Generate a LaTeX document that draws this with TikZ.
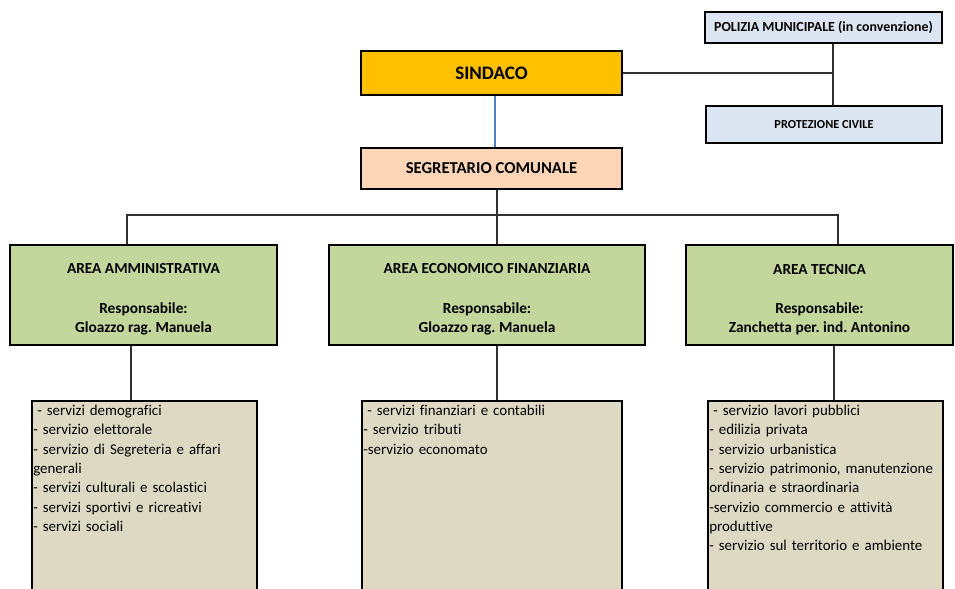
\documentclass[tikz,border=0pt]{standalone}
\usepackage{fontspec}
\setmainfont{Carlito}[Ligatures={NoCommon}]
\frenchspacing
\definecolor{sindacoC}{HTML}{FFC000}
\definecolor{segrC}{HTML}{FBD5B5}
\definecolor{bluegC}{HTML}{DCE6F2}
\definecolor{areaC}{HTML}{C3D69B}
\definecolor{listC}{HTML}{DDD9C3}
\definecolor{lineblue}{HTML}{4F81BD}
\definecolor{lineC}{HTML}{303030}
\tikzset{
  x=0.75pt, y=-0.75pt,
  mainbox/.style={draw=black, line width=2.2pt, inner sep=0pt, align=center, font=\bfseries},
  sz/.style 2 args={minimum width={#1*0.75pt}, minimum height={#2*0.75pt}},
  listbox/.style={draw=black, line width=1.5pt, fill=listC, inner sep=0pt, anchor=north west},
  listtext/.style={anchor=north west, inner sep=0pt, align=left, font=\fontsize{11.2}{14.5}\selectfont},
  areatext/.style={font=\bfseries\fontsize{11.5}{14.3}\selectfont},
  conn/.style={draw=lineC, line width=1pt},
}
\newcommand\topstrut{\rule{0pt}{14.5pt}}
\begin{document}
\begin{tikzpicture}
\useasboundingbox (0,0) rectangle (955,588);
\clip (0,0) rectangle (955,588);

\node[mainbox, fill=bluegC, sz={237}{31}, font=\bfseries\fontsize{10.4}{12}\selectfont] (polizia) at (823.5,27.5) {POLIZIA MUNICIPALE (in convenzione)};
\node[mainbox, fill=bluegC, sz={236}{37}, font=\bfseries\fontsize{9.2}{11}\selectfont] (protezione) at (824,124.5) {PROTEZIONE CIVILE};
\node[mainbox, fill=sindacoC, sz={261}{44}, font=\bfseries\fontsize{14.3}{16}\selectfont] (sindaco) at (491.5,73) {SINDACO};
\node[mainbox, fill=segrC, sz={261}{41}, font=\bfseries\fontsize{12.5}{14}\selectfont] (segretario) at (491.5,168.5) {SEGRETARIO COMUNALE};

\node[mainbox, fill=areaC, sz={267}{100}, areatext] (admin) at (143.5,295) {\topstrut AREA AMMINISTRATIVA\\[15.5pt]Responsabile:\\Gloazzo rag. Manuela};
\node[mainbox, fill=areaC, sz={316}{100}, areatext] (econ) at (487,295) {\topstrut AREA ECONOMICO FINANZIARIA\\[15.5pt]Responsabile:\\Gloazzo rag. Manuela};
\node[mainbox, fill=areaC, sz={267}{100}, areatext] (tecnica) at (819.5,295) {\topstrut AREA TECNICA\\[15.5pt]Responsabile:\\Zanchetta per. ind. Antonino};

\node[listbox, sz={225}{200}] (ladmin) at (31,400) {};
\node[listbox, sz={260}{200}] (lecon) at (361,400) {};
\node[listbox, sz={235}{200}] (ltec) at (707,400) {};

\node[listtext, text width=220*0.75pt] (tadmin) at (33,405) {\hspace*{3pt}- servizi demografici\\- servizio elettorale\\- servizio di Segreteria e affari\\generali\\- servizi culturali e scolastici\\- servizi sportivi e ricreativi\\- servizi sociali};
\node[listtext, text width=255*0.75pt] (tecon) at (363,405) {\hspace*{3pt}- servizi finanziari e contabili\\- servizio tributi\\-servizio economato};
\node[listtext, text width=232*0.75pt] (ttec) at (709,405) {\hspace*{3pt}- servizio lavori pubblici\\- edilizia privata\\- servizio urbanistica\\- servizio patrimonio, manutenzione\\ordinaria e straordinaria\\-servizio commercio e attività\\produttive\\- servizio sul territorio e ambiente};

% connectors top
\coordinate (jx) at (833,73);
\draw[conn] (sindaco.east) -- (jx);
\draw[conn] (jx |- polizia.south) -- (jx |- protezione.north);
\coordinate (bx) at (495,120);
\draw[draw=lineblue, line width=1pt] (bx |- sindaco.south) -- (bx |- segretario.north);

% bus
\coordinate (bl) at (127,215);
\coordinate (bm) at (497,215);
\coordinate (br) at (838,215);
\draw[conn] (bm |- segretario.south) -- (bm |- econ.north);
\draw[conn] (bl |- admin.north) -- (bl) -- (br) -- (br |- tecnica.north);

% areas to lists
\coordinate (la) at (131,370);
\coordinate (le) at (497,370);
\coordinate (lt) at (834,370);
\draw[conn] (la |- admin.south) -- (la |- ladmin.north);
\draw[conn] (le |- econ.south) -- (le |- lecon.north);
\draw[conn] (lt |- tecnica.south) -- (lt |- ltec.north);
\end{tikzpicture}
\end{document}
